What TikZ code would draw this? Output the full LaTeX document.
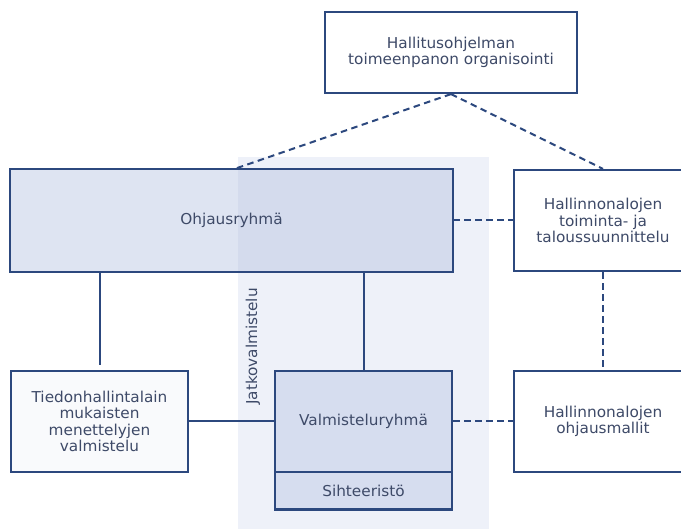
\documentclass[tikz,border=0pt]{standalone}
\usepackage{fontspec}
\setmainfont{DejaVu Sans}[FakeStretch=1.02]
\usetikzlibrary{calc}
\definecolor{bordc}{RGB}{44,72,126}
\definecolor{txtc}{RGB}{62,74,104}
\definecolor{ohjc}{RGB}{222,228,242}
\definecolor{ovc}{RGB}{212,219,237}
\definecolor{bgc}{RGB}{238,241,249}
\definecolor{valmc}{RGB}{214,221,239}
\definecolor{tiedc}{RGB}{249,250,252}
\tikzset{
  lbl/.style={text=txtc, font=\fontsize{15}{16.5}\selectfont},
  box/.style={lbl, draw=bordc, line width=2.2pt, inner sep=0pt, align=center},
  solidline/.style={draw=bordc, line width=2pt},
  dashline/.style={draw=bordc, line width=2pt, dash pattern=on 6.5pt off 4.5pt},
}
\begin{document}
\begin{tikzpicture}[x=1pt,y=-1pt]
\useasboundingbox (0,0) rectangle (681,529);
\clip (0,0) rectangle (681,529);
\fill[white] (0,0) rectangle (681,529);
% background band
\fill[bgc] (238,157) rectangle (489,535);
% nodes
\node[box, fill=white, minimum width=252pt, minimum height=81pt] (top) at (451,52.5)
  {Hallitusohjelman\\toimeenpanon organisointi};
\node[box, draw=none, fill=ohjc, minimum width=441pt, minimum height=101pt] (ohj) at (231.5,220.5) {};
\fill[ovc] (238,170) rectangle (452,271);
\draw[draw=bordc, line width=2.2pt] (ohj.north west) rectangle (ohj.south east);
\node[lbl] (ohjt) at (ohj.center) {Ohjausryhmä};
\node[box, fill=white, minimum width=178pt, minimum height=101pt] (rt) at (603,220.5)
  {Hallinnonalojen\\toiminta- ja\\taloussuunnittelu};
\node[box, fill=tiedc, minimum width=177pt, minimum height=101pt] (tied) at (99.5,421.5)
  {Tiedonhallintalain\\mukaisten\\menettelyjen\\valmistelu};
\node[box, fill=valmc, minimum width=177pt, minimum height=101pt] (valm) at (363.5,421.5)
  {Valmisteluryhmä};
\node[box, fill=valmc, minimum width=177pt, minimum height=37.5pt] (siht) at (363.5,490.75)
  {Sihteeristö};
\node[box, fill=white, minimum width=178pt, minimum height=101pt] (rb) at (603,421.5)
  {Hallinnonalojen\\ohjausmallit};
\node[lbl, rotate=90] (jatko) at (253,346.5) {Jatkovalmistelu};
% connectors
\coordinate (ohjtopl) at ($(ohj.north west)!0.507!(ohj.north east)$);
\draw[dashline] (top.south) -- (ohjtopl);
\draw[dashline] (top.south) -- (rt.north);
\draw[dashline] (ohj.east) -- (rt.west);
\draw[dashline] (rt.south) -- (rb.north);
\draw[solidline, shorten >=5pt] (tied.north |- ohj.south) -- (tied.north);
\draw[solidline] (valm.north |- ohj.south) -- (valm.north);
\draw[solidline] (tied.east) -- (valm.west);
\draw[dashline] (valm.east) -- (rb.west);
\end{tikzpicture}
\end{document}
